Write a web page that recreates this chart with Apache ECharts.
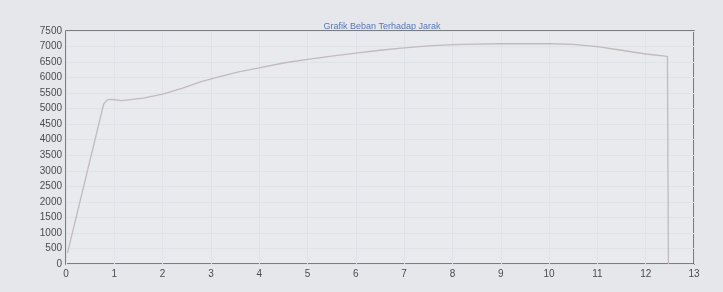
<!DOCTYPE html>
<html>
<head>
<meta charset="utf-8">
<script src="https://cdn.jsdelivr.net/npm/echarts@6/dist/echarts.min.js"></script>
<style>
  html, body { margin: 0; padding: 0; background: #e5e7eb; }
  #chart { width: 723px; height: 292px; }
</style>
</head>
<body>
<div id="chart"></div>
<script>
// jarak (x) dan beban (y)
var jarak = [0.03, 0.78, 0.86, 0.95, 1.15, 1.6, 2, 2.4, 2.8, 3.2, 3.6, 4, 4.5, 5, 5.5, 6, 6.5, 7, 7.5, 8, 8.5, 9, 9.5, 10, 10.5, 11, 11.5, 12, 12.45, 12.47];
var beban = [350, 5150, 5290, 5300, 5260, 5340, 5470, 5650, 5870, 6040, 6190, 6310, 6470, 6590, 6690, 6790, 6880, 6960, 7020, 7060, 7080, 7090, 7090, 7090, 7070, 7000, 6880, 6760, 6680, 0];

var data = [];
for (var i = 0; i < jarak.length; i++) {
  data.push([jarak[i], beban[i]]);
}

var chart = echarts.init(document.getElementById("chart"));

var option = {
  backgroundColor: "#e5e7eb",
  animation: false,
  title: {
    text: "Grafik Beban Terhadap Jarak",
    left: 377,
    top: 17,
    textAlign: "center",
    textStyle: {
      fontFamily: "Liberation Sans",
      fontSize: 9,
      fontWeight: "normal",
      color: "#5877b5"
    }
  },
  grid: {
    left: 66,
    right: 29,
    top: 31,
    bottom: 28,
    show: true,
    backgroundColor: "#e8eaee",
    borderColor: "#56595e",
    borderWidth: 1.5
  },
  xAxis: {
    type: "value",
    min: 0,
    max: 13,
    interval: 1,
    axisLine: { show: false },
    axisTick: { show: false },
    axisLabel: {
      color: "#4a4c50",
      fontFamily: "Liberation Sans",
      fontSize: 10,
      margin: 5
    },
    splitLine: { show: true, lineStyle: { color: "#dfe2e6", width: 1 } }
  },
  yAxis: {
    type: "value",
    min: 0,
    max: 7500,
    interval: 500,
    axisLine: { show: false },
    axisTick: { show: false },
    axisLabel: {
      color: "#4a4c50",
      fontFamily: "Liberation Sans",
      fontSize: 10,
      margin: 4,
      formatter: function (v) { return String(v); }
    },
    splitLine: { show: true, lineStyle: { color: "#dfe2e6", width: 1 } }
  },
  series: [
    {
      type: "line",
      data: data,
      symbol: "none",
      smooth: false,
      lineStyle: { color: "#c2babe", width: 1.3 }
    }
  ]
};

chart.setOption(option);
</script>
</body>
</html>
